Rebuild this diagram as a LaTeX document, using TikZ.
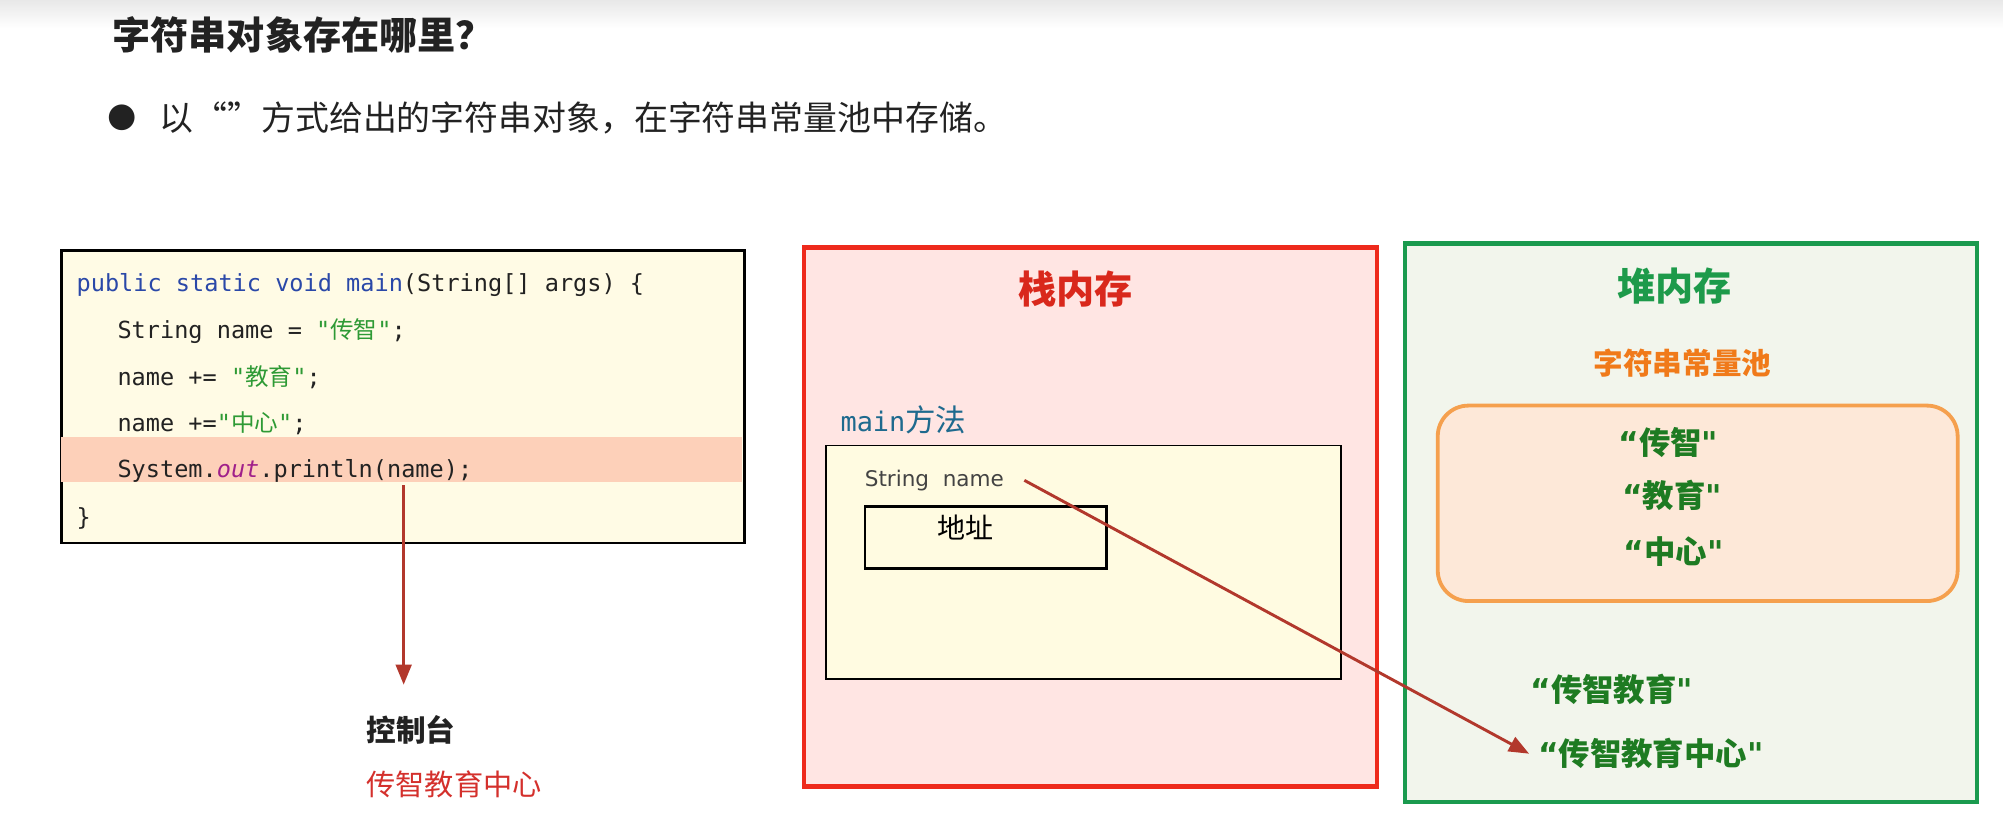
\documentclass[tikz,border=0pt]{standalone}
\usepackage{fontspec}
\setmainfont{Noto Sans CJK SC}
\newfontfamily\codefont{DejaVu Sans Mono}
\newfontfamily\cjk{Noto Sans CJK SC}
\newfontfamily\dvs{DejaVu Sans}
\newcommand\myoq{{\dvs\bfseries “}}
\newcommand\mycq{{\dvs\bfseries "}}
\usetikzlibrary{arrows.meta}
\definecolor{codebg}{HTML}{FFFBE5}
\definecolor{hilite}{HTML}{FDD0B9}
\definecolor{stackbg}{HTML}{FFE5E3}
\definecolor{stackbd}{HTML}{EE2A1C}
\definecolor{innerbg}{HTML}{FFFBE1}
\definecolor{heapbg}{HTML}{F2F5EC}
\definecolor{heapbd}{HTML}{1A9A4E}
\definecolor{poolbg}{HTML}{FDE8D8}
\definecolor{poolbd}{HTML}{F5A04E}
\definecolor{arrowc}{HTML}{B2382C}
\definecolor{stackt}{HTML}{D9281C}
\definecolor{heapt}{HTML}{1D9A4A}
\definecolor{poolt}{HTML}{F07A1A}
\definecolor{strg}{HTML}{1E7B22}
\definecolor{consred}{HTML}{D4302C}
\definecolor{kwblue}{HTML}{2A48A8}
\definecolor{codegreen}{HTML}{2E9A35}
\definecolor{outpurple}{HTML}{A0208A}
\definecolor{txt}{HTML}{222222}
\definecolor{mainblue}{HTML}{1E6A8E}
\tikzset{
  txtnode/.style={inner sep=0pt, outer sep=0pt},
  codeline/.style={txtnode, anchor=base west, font=\codefont\fontsize{10.5}{12}\selectfont, text=txt},
  poolstr/.style={txtnode, font=\bfseries\fontsize{14}{16}\selectfont, text=strg},
  link/.style={draw=arrowc, line width=1.3pt, -{Triangle[length=9pt,width=7pt]}},
}
\begin{document}
\begin{tikzpicture}[x=0.02cm,y=-0.02cm]
\useasboundingbox (0,0) rectangle (1568,654);
\fill[white] (0,0) rectangle (1568,654);
\shade[top color=black!9, bottom color=white] (0,0) rectangle (1568,22);

% title and bullet
\node[txtnode, anchor=west, font=\bfseries\fontsize{17}{19}\selectfont, text=txt] (title) at (88,27) {字符串对象存在哪里？};
\node[txtnode, anchor=center, font=\dvs\fontsize{15}{18}\selectfont, text=txt] (bullet) at (96,92) {●};
\node[txtnode, anchor=west, font=\fontsize{15.1}{18}\selectfont, text=txt] (sub) at (125,92) {以“”方式给出的字符串对象，在字符串常量池中存储。};

% code box
\node[draw=black, line width=1.1pt, fill=codebg, minimum width=535*0.02cm, minimum height=229*0.02cm, anchor=north west, inner sep=0pt] (code) at (47,195) {};
\fill[hilite] (47.8,342) rectangle (581.2,377);
\node[codeline] (l1) at (60,228) {\textcolor{kwblue}{public static void main}(String[] args) \{};
\node[codeline] (l2) at (92,265) {String name = \textcolor{codegreen}{"{\cjk 传智}"};};
\node[codeline] (l3) at (92,302) {name += \textcolor{codegreen}{"{\cjk 教育}"};};
\node[codeline] (l4) at (92,338) {name +=\textcolor{codegreen}{"{\cjk 中心}"};};
\node[codeline] (l5) at (92,374) {System.\textcolor{outpurple}{\itshape out}.println(name);};
\node[codeline] (l6) at (60,411) {\}};

% console
\coordinate (printsrc) at (316,380);
\coordinate (printdst) at (316,536);
\draw[link] (printsrc) -- (printdst);
\node[txtnode, anchor=west, font=\bfseries\fontsize{13.2}{15}\selectfont, text=txt] (console) at (287,571) {控制台};
\node[txtnode, anchor=west, font=\fontsize{13}{15}\selectfont, text=consred] (output) at (287,614) {传智教育中心};

% stack memory
\node[draw=stackbd, line width=1.9pt, fill=stackbg, minimum width=448*0.02cm, minimum height=422*0.02cm, anchor=north west, inner sep=0pt] (stack) at (628,192) {};
\node[txtnode, font=\bfseries\fontsize{17}{19}\selectfont, text=stackt] (stacktitle) at (842,226) {栈内存};
\node[txtnode, anchor=west, text=mainblue] (mainlbl) at (658,329) {{\codefont\fontsize{12}{14}\selectfont main}{\fontsize{13.6}{15}\selectfont 方法}};
\node[draw=black, line width=0.8pt, fill=innerbg, minimum width=403*0.02cm, minimum height=183*0.02cm, anchor=north west, inner sep=0pt] (frame) at (646,348) {};
\node[txtnode, anchor=west, font=\dvs\fontsize{9.6}{11}\selectfont, text=txt!85] (sname) at (677,376) {String\ \ name};
\node[draw=black, line width=1.3pt, minimum width=189*0.02cm, minimum height=49*0.02cm, anchor=north west, inner sep=0pt] (addr) at (676,395) {};
\node[txtnode, font=\fontsize{12.5}{14}\selectfont, text=black] (addrlbl) at (756,413) {地址};

% heap memory
\node[draw=heapbd, line width=1.9pt, fill=heapbg, minimum width=448*0.02cm, minimum height=437*0.02cm, anchor=north west, inner sep=0pt] (heap) at (1098,189) {};
\node[txtnode, font=\bfseries\fontsize{17}{19}\selectfont, text=heapt] (heaptitle) at (1311,224) {堆内存};
\node[txtnode, font=\bfseries\fontsize{13.2}{15}\selectfont, text=poolt] (pooltitle) at (1317,284) {字符串常量池};
\node[draw=poolbd, line width=1.7pt, fill=poolbg, rounded corners=24*0.02cm, minimum width=407*0.02cm, minimum height=153*0.02cm, anchor=north west, inner sep=0pt] (pool) at (1124,316) {};
\node[poolstr] (s1) at (1306,346) {\myoq 传智\mycq};
\node[poolstr] (s2) at (1309,388) {\myoq 教育\mycq};
\node[poolstr] (s3) at (1310,432) {\myoq 中心\mycq};
\node[poolstr, anchor=west] (s4) at (1198,540) {\myoq 传智教育\mycq};
\node[poolstr, anchor=west] (s5) at (1204,590) {\myoq 传智教育中心\mycq};

\coordinate (refsrc) at ([xshift=16*0.02cm]sname.east);
\draw[link] (refsrc) -- ([xshift=-7*0.02cm]s5.west);
\end{tikzpicture}
\end{document}
